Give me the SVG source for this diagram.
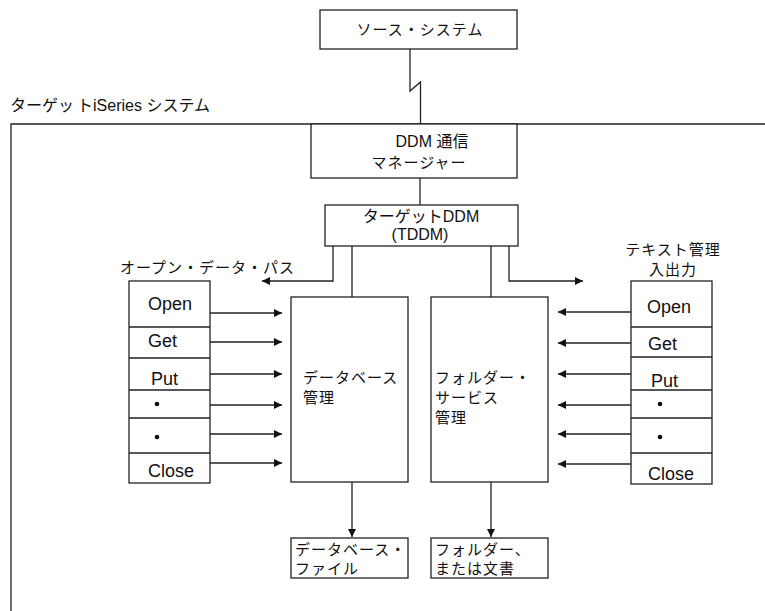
<svg xmlns="http://www.w3.org/2000/svg" width="765" height="611" viewBox="0 0 765 611">
<style>
.box{fill:#fff;stroke:#222;stroke-width:1.3}
.ln{fill:none;stroke:#222;stroke-width:1.3}
.t{font-family:"Liberation Sans","Noto Sans CJK JP",sans-serif;font-size:16px;fill:#111}
.j{font-family:"Noto Sans CJK JP","Liberation Sans",sans-serif;font-size:15px;letter-spacing:1px;fill:#111}
.c{font-family:"Liberation Sans",Arial,sans-serif;font-size:18px;fill:#111}
</style>
<defs>
<marker id="ah" viewBox="0 0 10 10" refX="10" refY="5" markerWidth="9" markerHeight="8" markerUnits="userSpaceOnUse" orient="auto">
<path d="M0,0 L10,5 L0,10 Z" fill="#111"/>
</marker>
</defs>
<rect width="765" height="611" fill="#fff"/>

<g id="frame">
<path class="ln" d="M765,124 H11 V611"/>
<text class="t" x="10" y="111">ターゲッ<tspan dx="3">ト</tspan>iSeries システム</text>
</g>

<g id="connectors">
<path class="ln" d="M410,49 V91 L420.5,82 V124"/>
<path class="ln" d="M420,178 V205"/>
<path class="ln" d="M333,246 V281 H262" marker-end="url(#ah)"/>
<path class="ln" d="M352,246 V297"/>
<path class="ln" d="M491,246 V297"/>
<path class="ln" d="M509,246 V281 H583" marker-end="url(#ah)"/>
<path class="ln" d="M210,313 H282" marker-end="url(#ah)"/>
<path class="ln" d="M210,342 H282" marker-end="url(#ah)"/>
<path class="ln" d="M210,374 H282" marker-end="url(#ah)"/>
<path class="ln" d="M210,405 H282" marker-end="url(#ah)"/>
<path class="ln" d="M210,434 H282" marker-end="url(#ah)"/>
<path class="ln" d="M210,463 H282" marker-end="url(#ah)"/>
<path class="ln" d="M631,312 H558" marker-end="url(#ah)"/>
<path class="ln" d="M631,343 H558" marker-end="url(#ah)"/>
<path class="ln" d="M631,374 H558" marker-end="url(#ah)"/>
<path class="ln" d="M631,405 H558" marker-end="url(#ah)"/>
<path class="ln" d="M631,434 H558" marker-end="url(#ah)"/>
<path class="ln" d="M631,464 H558" marker-end="url(#ah)"/>
<path class="ln" d="M352,482 V537" marker-end="url(#ah)"/>
<path class="ln" d="M491,482 V537" marker-end="url(#ah)"/>
</g>

<g id="source">
<rect class="box" x="320" y="10" width="197" height="39"/>
<text class="j" x="420" y="35" text-anchor="middle">ソース・システム</text>
</g>

<g id="ddm">
<rect class="box" x="311" y="124" width="206" height="54"/>
<text class="t" x="432" y="147" text-anchor="middle">DDM 通信</text>
<text class="j" x="419" y="168" text-anchor="middle">マネージャー</text>
</g>

<g id="tddm">
<rect class="box" x="325" y="205" width="193" height="41"/>
<text class="t" x="421" y="222" text-anchor="middle">ターゲットDDM</text>
<text class="t" x="420" y="240" text-anchor="middle">(TDDM)</text>
</g>

<g id="open-data-path">
<text class="j" x="120" y="273">オープン・データ・パス</text>
</g>

<g id="text-io-label">
<text class="j" x="673" y="255" text-anchor="middle">テキスト管理</text>
<text class="j" x="673" y="275" text-anchor="middle">入出力</text>
</g>

<g id="left-ops">
<rect class="box" x="129" y="281" width="81" height="202"/>
<path class="ln" d="M129,327 H210 M129,358 H210 M129,390 H210 M129,418 H210 M129,453 H210"/>
<text class="c" x="148" y="310">Open</text>
<text class="c" x="148" y="347">Get</text>
<text class="c" x="151" y="385">Put</text>
<circle cx="157" cy="404" r="2.3" fill="#111"/>
<circle cx="157" cy="437" r="2.3" fill="#111"/>
<text class="c" x="148" y="477">Close</text>
</g>

<g id="right-ops">
<rect class="box" x="631" y="281" width="81" height="203"/>
<path class="ln" d="M631,327 H712 M631,357 H712 M631,390 H712 M631,418 H712 M631,453 H712"/>
<text class="c" x="647" y="313">Open</text>
<text class="c" x="648" y="350">Get</text>
<text class="c" x="651" y="387">Put</text>
<circle cx="660" cy="404" r="2.3" fill="#111"/>
<circle cx="660" cy="437" r="2.3" fill="#111"/>
<text class="c" x="648" y="480">Close</text>
</g>

<g id="db-mgmt">
<rect class="box" x="291" y="297" width="117" height="185"/>
<text class="j" x="303" y="383">データベース</text>
<text class="j" x="303" y="403">管理</text>
</g>

<g id="folder-mgmt">
<rect class="box" x="431" y="297" width="117" height="185"/>
<text class="j" x="435" y="383">フォルダー・</text>
<text class="j" x="435" y="403">サービス</text>
<text class="j" x="435" y="423">管理</text>
</g>

<g id="db-file">
<rect class="box" x="291" y="538" width="117" height="40"/>
<text class="j" x="295" y="555">データベース・</text>
<text class="j" x="295" y="574">ファイル</text>
</g>

<g id="folder-doc">
<rect class="box" x="431" y="538" width="117" height="40"/>
<text class="j" x="435" y="555">フォルダー、</text>
<text class="j" x="435" y="574">または文書</text>
</g>
</svg>
